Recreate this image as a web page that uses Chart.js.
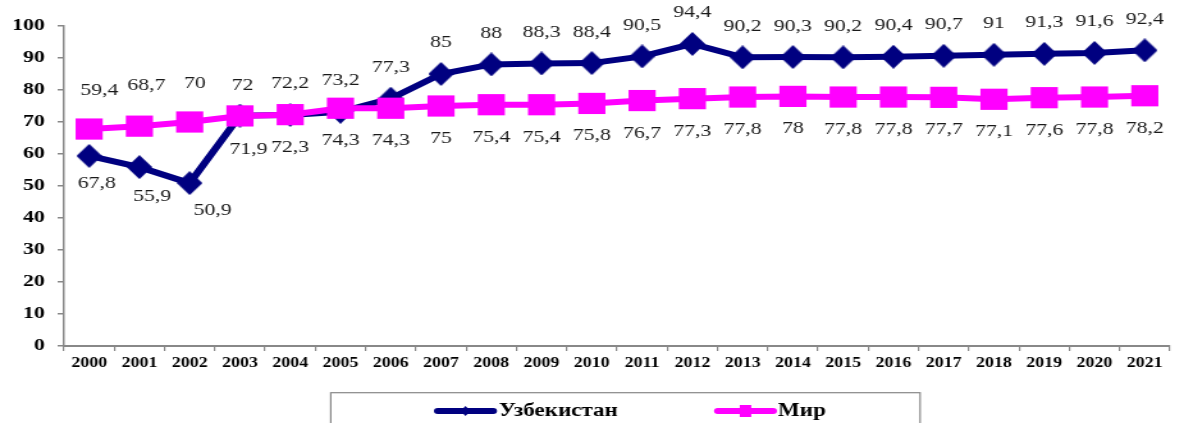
<!DOCTYPE html>
<html>
<head>
<meta charset="utf-8">
<script src="https://cdn.jsdelivr.net/npm/chart.js@4/dist/chart.umd.min.js"></script>
<style>
  html, body { margin: 0; padding: 0; background: #fff; overflow: hidden; width: 1185px; height: 423px; }
  /* the drawing is laid out narrow and widened horizontally */
  #wrap { position: absolute; left: 0; top: 0; width: 932px; height: 423px; transform: scaleX(1.28); transform-origin: 0 0; }
  canvas { display: block; }
</style>
</head>
<body>
<div id="wrap"><canvas id="chart" width="932" height="423"></canvas></div>
<script>
// ---- data ----
const years = ['2000', '2001', '2002', '2003', '2004', '2005', '2006', '2007', '2008', '2009', '2010',
               '2011', '2012', '2013', '2014', '2015', '2016', '2017', '2018', '2019', '2020', '2021'];
const uzbekistan = [59.4, 55.9, 50.9, 72, 72.2, 73.2, 77.3, 85, 88, 88.3, 88.4,
                    90.5, 94.4, 90.2, 90.3, 90.2, 90.4, 90.7, 91, 91.3, 91.6, 92.4];
const world = [67.8, 68.7, 70, 71.9, 72.3, 74.3, 74.3, 75, 75.4, 75.4, 75.8,
               76.7, 77.3, 77.8, 78, 77.8, 77.8, 77.7, 77.1, 77.6, 77.8, 78.2];
const seriesNames = ['Узбекистан', 'Мир'];
const yMin = 0, yMax = 100, yStep = 10;

// ---- styles ----
const NAVY = '#000080';
const MAGENTA = '#FF00FF';
const AXIS = '#888888';
const SERIF = '"Liberation Serif", "Times New Roman", serif';

// value labels: offset from own marker, [dx, dy]; negative dy = above
const labelPlacement = [
  { dy: -31,  shift: { 0: [8, -65], 1: [10, 29], 2: [18, 27], 3: [2, -30] } },
  { dy: 32.5, shift: { 0: [6, 54], 1: [5.5, -40.5], 2: [4, -38.7], 3: [6.6, 33.6] } }
];

function diamondSprite(w, h, color) {
  const c = document.createElement('canvas');
  c.width = w; c.height = h;
  const g = c.getContext('2d');
  g.fillStyle = color;
  g.beginPath();
  g.moveTo(w / 2, 0); g.lineTo(w, h / 2); g.lineTo(w / 2, h); g.lineTo(0, h / 2);
  g.closePath(); g.fill();
  return c;
}

const fmt = v => String(v).replace('.', ',');

const valueLabels = {
  id: 'valueLabels',
  afterDatasetsDraw(chart) {
    const ctx = chart.ctx;
    ctx.save();
    ctx.font = '17px ' + SERIF;
    ctx.fillStyle = '#1a1a1a';
    ctx.textAlign = 'center';
    ctx.textBaseline = 'middle';
    chart.data.datasets.forEach((ds, di) => {
      const meta = chart.getDatasetMeta(di);
      const place = labelPlacement[di];
      meta.data.forEach((pt, i) => {
        const s = place.shift[i] || [0, place.dy];
        ctx.fillText(fmt(ds.data[i]), pt.x + s[0], pt.y + s[1]);
      });
    });
    ctx.restore();
  }
};

const boxLegend = {
  id: 'boxLegend',
  afterDraw(chart) {
    const ctx = chart.ctx;
    const ds = chart.data.datasets;
    ctx.save();
    // frame
    ctx.strokeStyle = AXIS;
    ctx.lineWidth = 1.2;
    ctx.strokeRect(258.4, 392.7, 460.4, 40);
    const cy = 411;
    const items = [
      { x0: 339, x1: 388.3, tx: 389.8, ds: ds[0], marker: 'diamond' },
      { x0: 557.8, x1: 607, tx: 607.8, ds: ds[1], marker: 'square' }
    ];
    items.forEach(it => {
      ctx.strokeStyle = it.ds.borderColor;
      ctx.lineWidth = 6;
      ctx.lineCap = 'round';
      ctx.beginPath(); ctx.moveTo(it.x0 + 3, cy); ctx.lineTo(it.x1 - 3, cy); ctx.stroke();
      const mx = (it.x0 + it.x1) / 2;
      ctx.fillStyle = it.ds.borderColor;
      if (it.marker === 'diamond') {
        ctx.beginPath();
        ctx.moveTo(mx, cy - 5); ctx.lineTo(mx + 4, cy); ctx.lineTo(mx, cy + 5); ctx.lineTo(mx - 4, cy);
        ctx.closePath(); ctx.fill();
      } else {
        ctx.fillRect(mx - 4.5, cy - 6, 9, 12);
      }
      ctx.fillStyle = '#000';
      ctx.font = 'bold 18px ' + SERIF;
      ctx.textAlign = 'left';
      ctx.textBaseline = 'middle';
      ctx.fillText(it.ds.label, it.tx, cy + 0.5);
    });
    ctx.restore();
  }
};

new Chart(document.getElementById('chart'), {
  type: 'line',
  data: {
    labels: years,
    datasets: [
      {
        label: seriesNames[0],
        data: uzbekistan,
        borderColor: NAVY,
        backgroundColor: NAVY,
        borderWidth: 6,
        tension: 0,
        pointStyle: diamondSprite(20, 24, NAVY),
        pointRadius: 12,
        order: 1
      },
      {
        label: seriesNames[1],
        data: world,
        borderColor: MAGENTA,
        backgroundColor: MAGENTA,
        borderWidth: 6,
        tension: 0,
        pointStyle: 'rect',
        pointRadius: 15,
        pointBorderWidth: 0,
        pointBorderColor: MAGENTA,
        order: 0
      }
    ]
  },
  options: {
    responsive: false,
    animation: false,
    devicePixelRatio: 1,
    layout: { padding: { left: 0, right: 2.7, top: 26, bottom: 37 } },
    plugins: { legend: { display: false }, tooltip: { enabled: false } },
    scales: {
      x: {
        type: 'category',
        offset: true,
        grid: { display: true, drawOnChartArea: false, drawTicks: true, tickLength: 5, color: AXIS, lineWidth: 1.2, offset: true },
        border: { display: true, color: AXIS, width: 2 },
        ticks: { color: '#000', font: { family: SERIF, size: 14, weight: 'bold' }, padding: 4, maxRotation: 0, autoSkip: false },
        afterFit: s => { s.height = 40; }
      },
      y: {
        min: yMin,
        max: yMax,
        grid: { display: true, drawOnChartArea: false, drawTicks: true, tickLength: 5, color: AXIS, lineWidth: 1.5 },
        border: { display: true, color: AXIS, width: 1.5 },
        ticks: { stepSize: yStep, color: '#000', font: { family: SERIF, size: 17, weight: 'bold' }, padding: 10 },
        afterFit: s => { s.width = 50; }
      }
    }
  },
  plugins: [valueLabels, boxLegend]
});
</script>
</body>
</html>
